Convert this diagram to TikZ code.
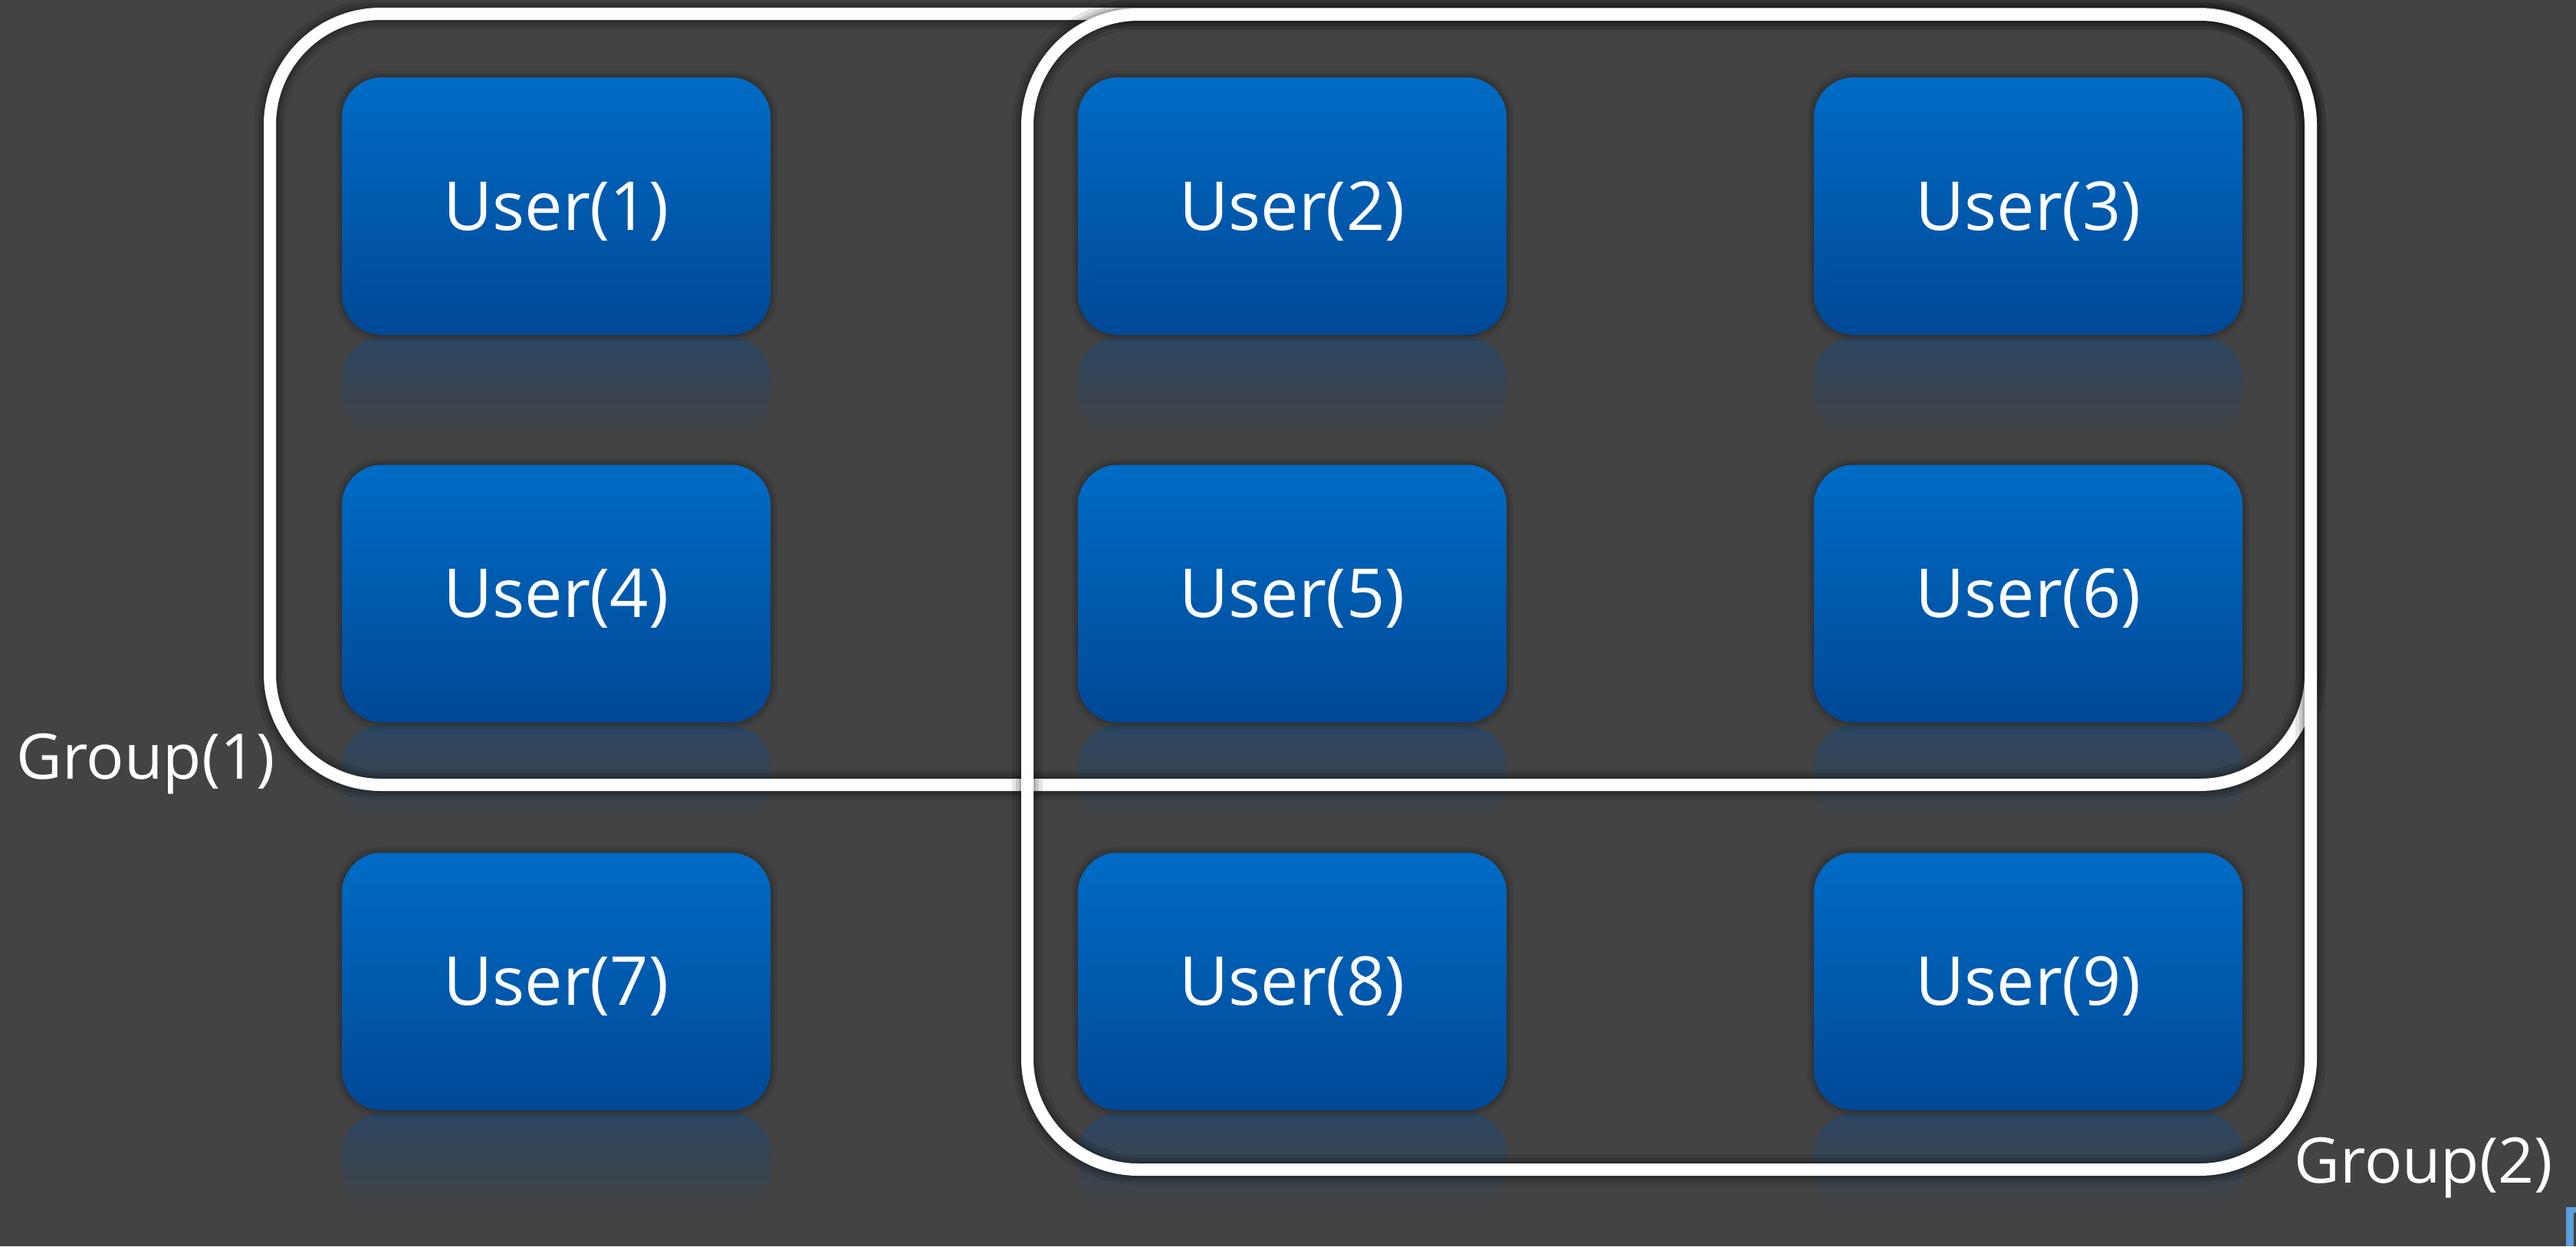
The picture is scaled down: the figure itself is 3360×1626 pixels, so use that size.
\documentclass[tikz,border=0pt]{standalone}
\usepackage{fontspec}
\setmainfont{Open Sans}
\usetikzlibrary{calc}
\definecolor{bg}{RGB}{67,67,67}
\definecolor{boxtop}{RGB}{0,108,197}
\definecolor{boxbot}{RGB}{0,72,150}
\definecolor{refltop}{RGB}{44,70,98}
\definecolor{tagblue}{RGB}{90,160,220}
\pgfdeclarelayer{back}
\pgfsetlayers{back,main}
\tikzset{
  softshadow/.style={
    preaction={draw=black, draw opacity=0.07, line width=18pt},
    preaction={draw=black, draw opacity=0.08, line width=11pt},
    preaction={draw=black, draw opacity=0.10, line width=5pt}},
  userbox/.style={shape=rectangle, rounded corners=52pt,
    minimum width=559pt, minimum height=336pt, inner sep=0pt,
    softshadow,
    top color=boxtop, bottom color=boxbot, text=white,
    font=\fontsize{88}{100}\selectfont, text height=70pt, text depth=8pt},
  reflection/.style={top color=refltop, bottom color=bg, rounded corners=52pt},
  groupframe/.style={shape=rectangle, rounded corners=145pt, inner sep=0pt,
    preaction={draw=black, draw opacity=0.10, line width=40pt},
    preaction={draw=black, draw opacity=0.12, line width=30pt},
    preaction={draw=black, draw opacity=0.15, line width=22pt},
    draw=white, line width=16pt},
  grouplabel/.style={text=white, font=\fontsize{82}{100}\selectfont,
    anchor=base, inner sep=0pt}
}
\begin{document}
\begin{tikzpicture}[x=1pt,y=-1pt]
  \useasboundingbox (0,0) rectangle (3360,1626);
  \begin{pgfonlayer}{back}
    \fill[bg] (0,0) rectangle (3360,1626);
  \end{pgfonlayer}

  % user tiles, three rows of three
  \foreach \n/\cx/\cy in {1/725.5/269, 2/1685.5/269, 3/2645.5/269,
                          4/725.5/774.5, 5/1685.5/774.5, 6/2645.5/774.5,
                          7/725.5/1280.5, 8/1685.5/1280.5, 9/2645.5/1280.5}{
    \node[userbox] (u\n) at (\cx,\cy) {User(\n)};
    \begin{pgfonlayer}{back}
      \shade[reflection] ($(u\n.south west)+(0,4)$) rectangle ($(u\n.south east)+(0,132)$);
    \end{pgfonlayer}
  }

  % group outlines
  \node[groupframe, minimum width=2662pt, minimum height=1006pt] (grp1) at (1683,521) {};
  \node[groupframe, minimum width=1674pt, minimum height=1507pt] (grp2) at (2177,772.5) {};

  % group captions
  \node[grouplabel] (g1label) at (190,1016) {Group(1)};
  \node[grouplabel] (g2label) at (3161,1543) {Group(2)};

  % corner tag
  \fill[tagblue] (3347,1575) rectangle (3360,1626);
  \fill[black!75] (3357,1582) rectangle (3360,1626);
\end{tikzpicture}
\end{document}
